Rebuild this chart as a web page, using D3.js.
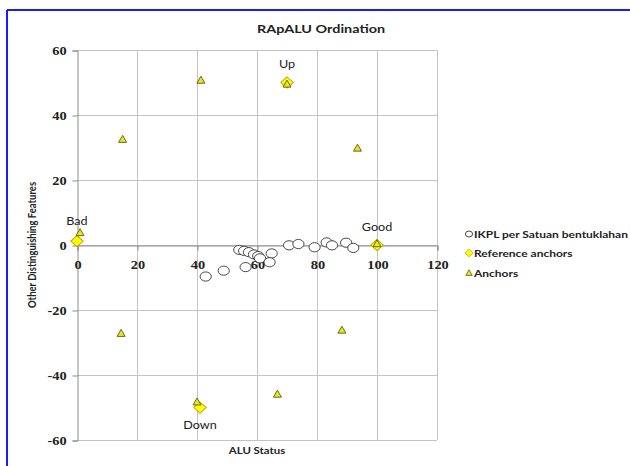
<!DOCTYPE html>
<html>
<head>
<meta charset="utf-8">
<script src="https://cdnjs.cloudflare.com/ajax/libs/d3/7.8.5/d3.min.js"></script>
<style>
  html, body { margin: 0; padding: 0; background: #fff; }
  svg { display: block; }
</style>
</head>
<body>
<svg id="chart" width="630" height="466"></svg>
<script>
// IKPL per Satuan bentuklahan
const ikplX = [42.9, 48.9, 54.1, 55.7, 56.2, 57.3, 59.0, 60.4, 61.0, 64.9, 64.2, 70.7, 73.8, 79.2, 83.2, 85.0, 89.7, 92.1];
const ikplY = [-9.7, -7.9, -1.5, -1.8, -6.8, -2.2, -2.9, -3.4, -4.1, -2.6, -5.3, -0.1, 0.3, -0.7, 0.8, -0.1, 0.7, -0.9];

// Reference anchors
const refNames = ["Bad", "Up", "Good", "Down"];
const refX = [0, 70, 100, 41];
const refY = [1.2, 50, 0, -50];

// Anchors
const anchorX = [1, 15.2, 41.3, 70, 93.5, 100, 14.7, 40, 66.8, 88.3];
const anchorY = [3.8, 32.5, 50.7, 49.5, 29.8, 0.4, -27.2, -48.3, -45.9, -26.2];

// Axis ticks
const xTicks = [0, 20, 40, 60, 80, 100, 120];
const yTicks = [-60, -40, -20, 0, 20, 40, 60];

const seriesNames = ["IKPL per Satuan bentuklahan", "Reference anchors", "Anchors"];

const SX = 1.2; // horizontal text stretch
const svg = d3.select("#chart");

// chart frame
svg.append("line").attr("x1", 7).attr("y1", 10).attr("x2", 630).attr("y2", 10)
  .attr("stroke", "#1a1aff").attr("stroke-width", 2);
svg.append("line").attr("x1", 7).attr("y1", 10).attr("x2", 7).attr("y2", 466)
  .attr("stroke", "#1a1aff").attr("stroke-width", 2);

const x = d3.scaleLinear().domain([0, 120]).range([77, 437]);
const y = d3.scaleLinear().domain([-60, 60]).range([440, 50]);

function stretchedText(parent, px, py, txt, size, anchor, weight, family, color) {
  return parent.append("text")
    .attr("transform", `translate(${px},${py}) scale(${SX},1)`)
    .attr("text-anchor", anchor)
    .attr("font-family", family)
    .attr("font-weight", weight)
    .attr("font-size", size)
    .attr("fill", color)
    .text(txt);
}

const plainNumber = d => String(d);

// gridlines
const grid = svg.append("g");
grid.selectAll("line.h").data(yTicks).join("line")
  .attr("x1", x(0)).attr("x2", x(120))
  .attr("y1", d => y(d) + 0.5).attr("y2", d => y(d) + 0.5)
  .attr("stroke", "#c4c4c4").attr("stroke-width", 1);
grid.selectAll("line.v").data(xTicks.filter(d => d > 0)).join("line")
  .attr("y1", y(60)).attr("y2", y(-60))
  .attr("x1", d => x(d) + 0.5).attr("x2", d => x(d) + 0.5)
  .attr("stroke", "#c4c4c4").attr("stroke-width", 1);

// y axis
const yAxis = svg.append("g").attr("transform", `translate(${x(0) + 0.5},0.5)`)
  .call(d3.axisLeft(y).tickValues(yTicks).tickFormat(plainNumber).tickSize(5).tickPadding(4));
yAxis.select(".domain").attr("stroke", "#8c8c8c");
yAxis.selectAll(".tick line").attr("stroke", "#8c8c8c");
yAxis.selectAll(".tick text")
  .attr("font-family", "'Liberation Serif', serif")
  .attr("font-weight", "bold")
  .attr("font-size", 12)
  .attr("fill", "#222")
  .attr("transform", `scale(${SX},1)`);

// x axis at y = 0
const xAxis = svg.append("g").attr("transform", `translate(0.5,${y(0) + 0.5})`)
  .call(d3.axisBottom(x).tickValues(xTicks).tickFormat(plainNumber).tickSize(5).tickPadding(10));
xAxis.select(".domain").attr("stroke", "#8c8c8c");
xAxis.selectAll(".tick line").attr("stroke", "#8c8c8c");
xAxis.selectAll(".tick text")
  .attr("font-family", "'Liberation Serif', serif")
  .attr("font-weight", "bold")
  .attr("font-size", 12)
  .attr("fill", "#222")
  .attr("transform", `scale(${SX},1)`);

// titles
stretchedText(svg, 321, 33, "RApALU Ordination", 12, "middle", "bold", "Lato, sans-serif", "#222");
stretchedText(svg, 257, 454, "ALU Status", 9.5, "middle", "bold", "Lato, sans-serif", "#222");
svg.append("text")
  .attr("transform", `translate(36,245) scale(${SX},1) rotate(-90)`)
  .attr("text-anchor", "middle")
  .attr("font-family", "Lato, sans-serif")
  .attr("font-weight", "bold")
  .attr("font-size", 9.5)
  .attr("fill", "#222")
  .text("Other Distinguishing Features");

// marker shapes
const diamondPath = "M0,-5.5L5.5,0L0,5.5L-5.5,0Z";
const trianglePath = "M0,-4L4,3L-4,3Z";

// IKPL circles
svg.append("g").selectAll("ellipse").data(ikplX).join("ellipse")
  .attr("cx", (d, i) => x(d)).attr("cy", (d, i) => y(ikplY[i]))
  .attr("rx", 5.6).attr("ry", 4.6)
  .attr("fill", "#fff").attr("stroke", "#333").attr("stroke-width", 0.9);

// reference anchors
svg.append("g").selectAll("path").data(refX).join("path")
  .attr("transform", (d, i) => `translate(${x(d)},${y(refY[i])}) scale(${SX * 0.95},1)`)
  .attr("d", diamondPath)
  .attr("fill", "#ffff00").attr("stroke", "#b8a800").attr("stroke-width", 0.9);

// anchors
svg.append("g").selectAll("path").data(anchorX).join("path")
  .attr("transform", (d, i) => `translate(${x(d)},${y(anchorY[i])})`)
  .attr("d", trianglePath)
  .attr("fill", "#e8e81a").attr("stroke", "#5a5a10").attr("stroke-width", 0.9);

// reference anchor labels
const labelOffset = { Bad: -16, Up: -15, Good: -14, Down: 21 };
refNames.forEach((name, i) => {
  stretchedText(svg, x(refX[i]), y(refY[i]) + labelOffset[name], name, 10.5, "middle",
    "normal", "Lato, sans-serif", "#222");
});

// legend
const legend = svg.append("g");
const legendY = [234, 253, 273];
legend.append("ellipse").attr("cx", 469).attr("cy", legendY[0]).attr("rx", 3.6).attr("ry", 3)
  .attr("fill", "#fff").attr("stroke", "#333").attr("stroke-width", 0.9);
legend.append("path").attr("transform", `translate(469,${legendY[1]}) scale(0.75,0.7)`)
  .attr("d", diamondPath).attr("fill", "#ffff00").attr("stroke", "#b8a800").attr("stroke-width", 1);
legend.append("path").attr("transform", `translate(469,${legendY[2]}) scale(0.8,0.8)`)
  .attr("d", trianglePath).attr("fill", "#e8e81a").attr("stroke", "#5a5a10").attr("stroke-width", 1);
seriesNames.forEach((name, i) => {
  stretchedText(legend, 474, legendY[i] + 3.5, name, 10, "start", "bold", "Lato, sans-serif", "#222");
});
</script>
</body>
</html>
